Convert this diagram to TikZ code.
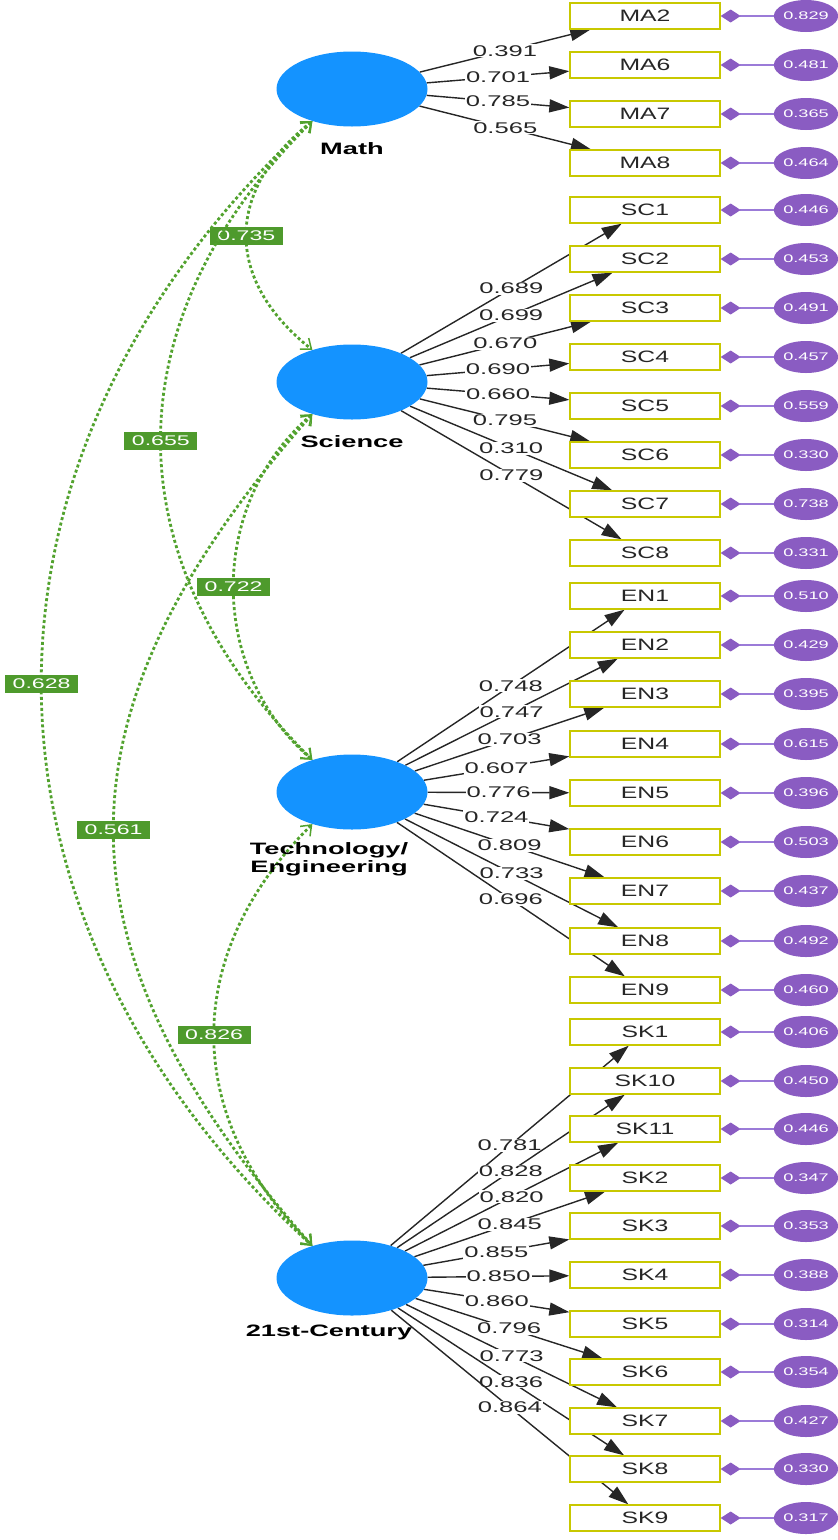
\documentclass[tikz,border=0pt]{standalone}
\usepackage{fontspec}
\setmainfont{Liberation Sans}
\newfontfamily\boxfont[FakeStretch=1.5]{Liberation Sans}
\newfontfamily\widefont[FakeStretch=1.65]{Liberation Sans}
\usetikzlibrary{shapes.geometric,arrows.meta,backgrounds}

\definecolor{latblue}{HTML}{1493FF}
\definecolor{boxyellow}{HTML}{C8C800}
\definecolor{respurple}{HTML}{8A5CC2}
\definecolor{resline}{HTML}{9B7BD8}
\definecolor{covgreen}{HTML}{4E9A2C}
\definecolor{covline}{HTML}{52A22E}

\tikzset{
  latent/.style={ellipse, fill=latblue, minimum width=151pt, minimum height=75pt, inner sep=0pt},
  latname/.style={font=\widefont\bfseries\fontsize{16.5}{18}\selectfont, align=center},
  ind/.style={rectangle, draw=boxyellow, line width=1.3pt, fill=white, minimum width=150pt,
    minimum height=26pt, inner sep=0pt, text=black!85, font=\boxfont\fontsize{16.5}{18}\selectfont},
  res/.style={ellipse, fill=respurple, minimum width=62pt, minimum height=32pt, inner sep=0pt,
    text=white, font=\widefont\fontsize{11}{12}\selectfont},
  load/.style={draw=black!85, line width=1.4pt, -{Triangle[length=20pt,width=13pt]}},
  lbl/.style={fill=white, inner sep=1pt, text=black!85, font=\widefont\fontsize{15.5}{16}\selectfont},
  resarr/.style={draw=resline, line width=1.2pt, -{Diamond[length=20pt,width=13pt,color=respurple]}},
  cov/.style={draw=covline, line width=2.8pt, dash pattern=on 3pt off 2.5pt,
    {Straight Barb[length=9pt,width=14pt,line width=1.5pt]}-{Straight Barb[length=9pt,width=14pt,line width=1.5pt]}},
  covlbl/.style={fill=covgreen, text=white, inner sep=0pt, minimum width=73pt, minimum height=18pt,
    font=\widefont\fontsize{14}{15}\selectfont}
}

\begin{document}
\begin{tikzpicture}[x=1pt,y=-1pt]
\useasboundingbox (0,0) rectangle (838,1540);

% latent factors
\node [latent, at={(352,89)}] (math) {};
\node [latname, at={(352,149)}] (mathname) {Math};
\node [latent, at={(352,382)}] (sci) {};
\node [latname, at={(352,442)}] (sciname) {Science};
\node [latent, at={(352,792)}] (tech) {};
\node [latname, at={(329,859)}] (techname) {Technology/\\Engineering};
\node [latent, at={(352,1278)}] (cen) {};
\node [latname, at={(329,1332)}] (cenname) {21st-Century};

% indicators and residuals
\node [ind, at={(645,16)}] (ma2) {MA2};   \node [res, at={(806,16)}] (rma2) {0.829};
\node [ind, at={(645,65)}] (ma6) {MA6};   \node [res, at={(806,65)}] (rma6) {0.481};
\node [ind, at={(645,114)}] (ma7) {MA7};  \node [res, at={(806,114)}] (rma7) {0.365};
\node [ind, at={(645,163)}] (ma8) {MA8};  \node [res, at={(806,163)}] (rma8) {0.464};

\node [ind, at={(645,210)}] (sc1) {SC1};  \node [res, at={(806,210)}] (rsc1) {0.446};
\node [ind, at={(645,259)}] (sc2) {SC2};  \node [res, at={(806,259)}] (rsc2) {0.453};
\node [ind, at={(645,308)}] (sc3) {SC3};  \node [res, at={(806,308)}] (rsc3) {0.491};
\node [ind, at={(645,357)}] (sc4) {SC4};  \node [res, at={(806,357)}] (rsc4) {0.457};
\node [ind, at={(645,406)}] (sc5) {SC5};  \node [res, at={(806,406)}] (rsc5) {0.559};
\node [ind, at={(645,455)}] (sc6) {SC6};  \node [res, at={(806,455)}] (rsc6) {0.330};
\node [ind, at={(645,504)}] (sc7) {SC7};  \node [res, at={(806,504)}] (rsc7) {0.738};
\node [ind, at={(645,553)}] (sc8) {SC8};  \node [res, at={(806,553)}] (rsc8) {0.331};

\node [ind, at={(645,596)}] (en1) {EN1};  \node [res, at={(806,596)}] (ren1) {0.510};
\node [ind, at={(645,645)}] (en2) {EN2};  \node [res, at={(806,645)}] (ren2) {0.429};
\node [ind, at={(645,694)}] (en3) {EN3};  \node [res, at={(806,694)}] (ren3) {0.395};
\node [ind, at={(645,744)}] (en4) {EN4};  \node [res, at={(806,744)}] (ren4) {0.615};
\node [ind, at={(645,793)}] (en5) {EN5};  \node [res, at={(806,793)}] (ren5) {0.396};
\node [ind, at={(645,842)}] (en6) {EN6};  \node [res, at={(806,842)}] (ren6) {0.503};
\node [ind, at={(645,891)}] (en7) {EN7};  \node [res, at={(806,891)}] (ren7) {0.437};
\node [ind, at={(645,941)}] (en8) {EN8};  \node [res, at={(806,941)}] (ren8) {0.492};
\node [ind, at={(645,990)}] (en9) {EN9};  \node [res, at={(806,990)}] (ren9) {0.460};

\node [ind, at={(645,1032)}] (sk1) {SK1};   \node [res, at={(806,1032)}] (rsk1) {0.406};
\node [ind, at={(645,1081)}] (sk10) {SK10}; \node [res, at={(806,1081)}] (rsk10) {0.450};
\node [ind, at={(645,1129)}] (sk11) {SK11}; \node [res, at={(806,1129)}] (rsk11) {0.446};
\node [ind, at={(645,1178)}] (sk2) {SK2};   \node [res, at={(806,1178)}] (rsk2) {0.347};
\node [ind, at={(645,1226)}] (sk3) {SK3};   \node [res, at={(806,1226)}] (rsk3) {0.353};
\node [ind, at={(645,1275)}] (sk4) {SK4};   \node [res, at={(806,1275)}] (rsk4) {0.388};
\node [ind, at={(645,1324)}] (sk5) {SK5};   \node [res, at={(806,1324)}] (rsk5) {0.314};
\node [ind, at={(645,1372)}] (sk6) {SK6};   \node [res, at={(806,1372)}] (rsk6) {0.354};
\node [ind, at={(645,1421)}] (sk7) {SK7};   \node [res, at={(806,1421)}] (rsk7) {0.427};
\node [ind, at={(645,1469)}] (sk8) {SK8};   \node [res, at={(806,1469)}] (rsk8) {0.330};
\node [ind, at={(645,1518)}] (sk9) {SK9};   \node [res, at={(806,1518)}] (rsk9) {0.317};

\begin{scope}[on background layer]
% loadings
\draw[load] (math) -- node[lbl] {0.391} (ma2);
\draw[load] (math) -- node[lbl] {0.701} (ma6);
\draw[load] (math) -- node[lbl] {0.785} (ma7);
\draw[load] (math) -- node[lbl] {0.565} (ma8);

\draw[load] (sci) -- node[lbl] {0.689} (sc1);
\draw[load] (sci) -- node[lbl] {0.699} (sc2);
\draw[load] (sci) -- node[lbl] {0.670} (sc3);
\draw[load] (sci) -- node[lbl] {0.690} (sc4);
\draw[load] (sci) -- node[lbl] {0.660} (sc5);
\draw[load] (sci) -- node[lbl] {0.795} (sc6);
\draw[load] (sci) -- node[lbl] {0.310} (sc7);
\draw[load] (sci) -- node[lbl] {0.779} (sc8);

\draw[load] (tech) -- node[lbl] {0.748} (en1);
\draw[load] (tech) -- node[lbl] {0.747} (en2);
\draw[load] (tech) -- node[lbl] {0.703} (en3);
\draw[load] (tech) -- node[lbl] {0.607} (en4);
\draw[load] (tech) -- node[lbl] {0.776} (en5);
\draw[load] (tech) -- node[lbl] {0.724} (en6);
\draw[load] (tech) -- node[lbl] {0.809} (en7);
\draw[load] (tech) -- node[lbl] {0.733} (en8);
\draw[load] (tech) -- node[lbl] {0.696} (en9);

\draw[load] (cen) -- node[lbl] {0.781} (sk1);
\draw[load] (cen) -- node[lbl] {0.828} (sk10);
\draw[load] (cen) -- node[lbl] {0.820} (sk11);
\draw[load] (cen) -- node[lbl] {0.845} (sk2);
\draw[load] (cen) -- node[lbl] {0.855} (sk3);
\draw[load] (cen) -- node[lbl] {0.850} (sk4);
\draw[load] (cen) -- node[lbl] {0.860} (sk5);
\draw[load] (cen) -- node[lbl] {0.796} (sk6);
\draw[load] (cen) -- node[lbl] {0.773} (sk7);
\draw[load] (cen) -- node[lbl] {0.836} (sk8);
\draw[load] (cen) -- node[lbl] {0.864} (sk9);

% residuals
\draw[resarr] (rma2) -- (ma2);  \draw[resarr] (rma6) -- (ma6);
\draw[resarr] (rma7) -- (ma7);  \draw[resarr] (rma8) -- (ma8);
\draw[resarr] (rsc1) -- (sc1);  \draw[resarr] (rsc2) -- (sc2);
\draw[resarr] (rsc3) -- (sc3);  \draw[resarr] (rsc4) -- (sc4);
\draw[resarr] (rsc5) -- (sc5);  \draw[resarr] (rsc6) -- (sc6);
\draw[resarr] (rsc7) -- (sc7);  \draw[resarr] (rsc8) -- (sc8);
\draw[resarr] (ren1) -- (en1);  \draw[resarr] (ren2) -- (en2);
\draw[resarr] (ren3) -- (en3);  \draw[resarr] (ren4) -- (en4);
\draw[resarr] (ren5) -- (en5);  \draw[resarr] (ren6) -- (en6);
\draw[resarr] (ren7) -- (en7);  \draw[resarr] (ren8) -- (en8);
\draw[resarr] (ren9) -- (en9);
\draw[resarr] (rsk1) -- (sk1);  \draw[resarr] (rsk10) -- (sk10);
\draw[resarr] (rsk11) -- (sk11); \draw[resarr] (rsk2) -- (sk2);
\draw[resarr] (rsk3) -- (sk3);  \draw[resarr] (rsk4) -- (sk4);
\draw[resarr] (rsk5) -- (sk5);  \draw[resarr] (rsk6) -- (sk6);
\draw[resarr] (rsk7) -- (sk7);  \draw[resarr] (rsk8) -- (sk8);
\draw[resarr] (rsk9) -- (sk9);

% correlations between factors
\draw[cov] (math.219) .. controls +(-88,70) and +(-88,-70) .. node[covlbl] {0.735} (sci.141);
\draw[cov] (math.219) .. controls +(-202,200) and +(-202,-200) .. node[covlbl] {0.655} (tech.141);
\draw[cov] (math.219) .. controls +(-361,330) and +(-361,-330) .. node[covlbl] {0.628} (cen.141);
\draw[cov] (sci.219) .. controls +(-105,90) and +(-105,-90) .. node[covlbl] {0.722} (tech.141);
\draw[cov] (sci.219) .. controls +(-265,300) and +(-265,-300) .. node[covlbl] {0.561} (cen.141);
\draw[cov] (tech.219) .. controls +(-131,130) and +(-131,-130) .. node[covlbl] {0.826} (cen.141);
\end{scope}
\end{tikzpicture}
\end{document}
